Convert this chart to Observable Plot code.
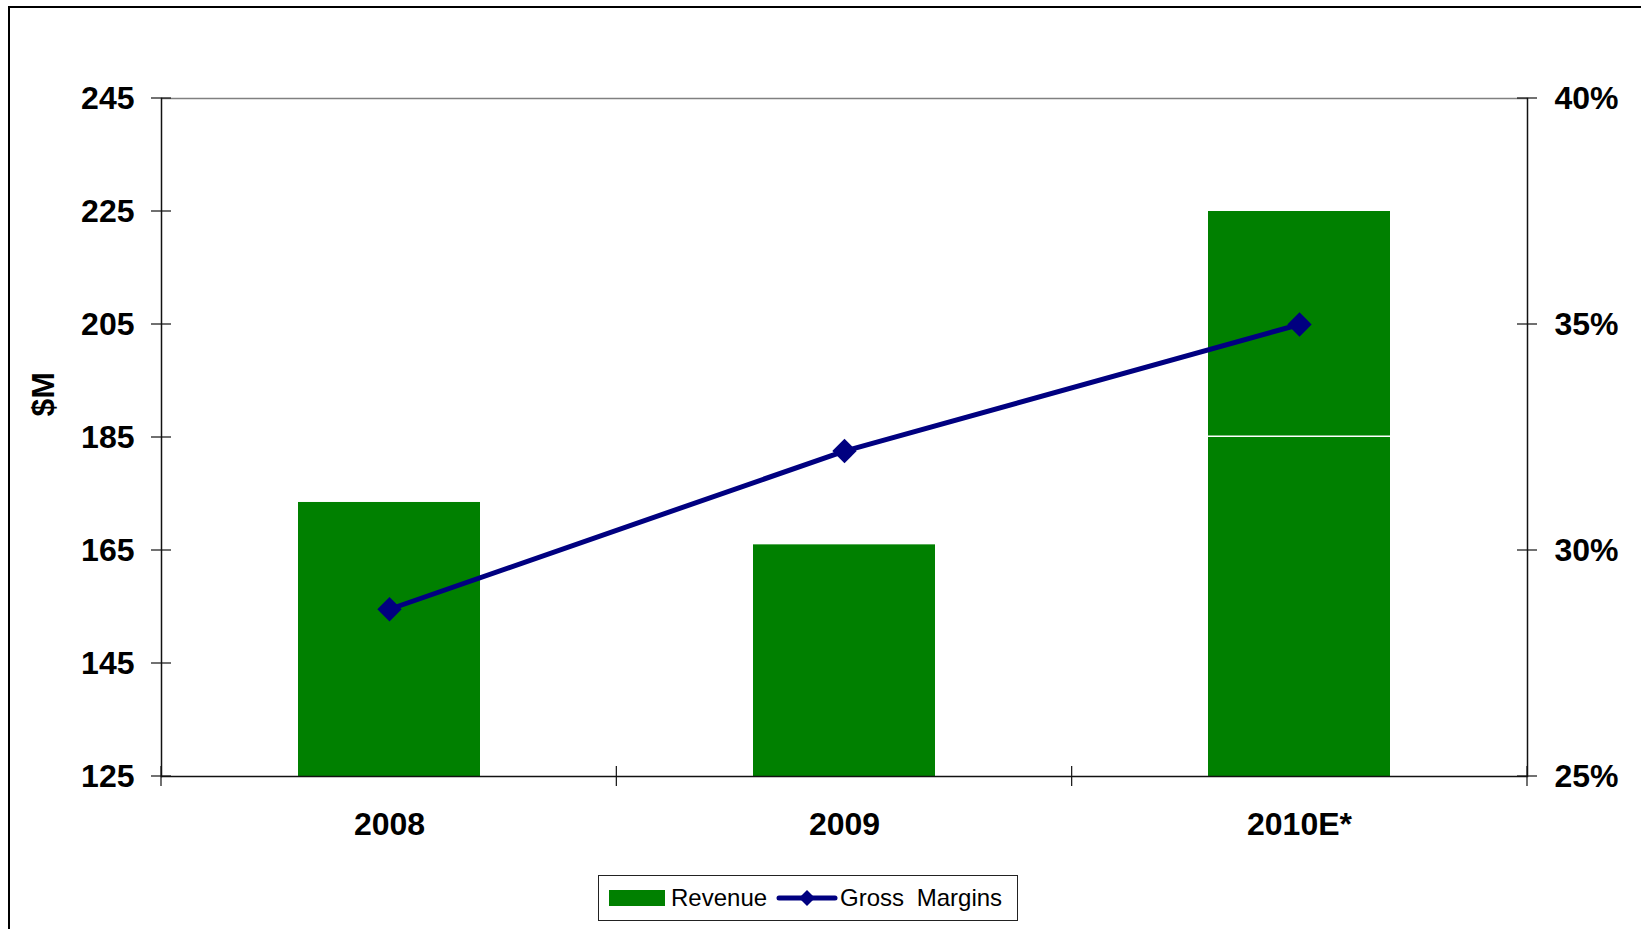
<!DOCTYPE html>
<html>
<head>
<meta charset="utf-8">
<script src="https://cdn.jsdelivr.net/npm/d3@7"></script>
<script src="https://cdn.jsdelivr.net/npm/@observablehq/plot@0.6"></script>
<style>
  html, body { margin: 0; padding: 0; background: #fff; overflow: hidden; }
  #wrap { position: relative; width: 1641px; height: 929px; }
  #border { position: absolute; left: 8px; top: 6px; width: 1700px; height: 1000px;
            border: 2px solid #000; box-sizing: border-box; pointer-events: none; }
  #chart svg { display: block; }
  #legend { margin-left: 598px; width: 420px; height: 46px; border: 1.5px solid #222;
            box-sizing: border-box; display: flex; align-items: center;
            font: 24px "Liberation Sans", Arial, sans-serif; color: #000; white-space: nowrap; }
  #legend .sw { display: inline-block; width: 56px; height: 16px; background: #008000; margin-left: 10px; }
  #legend .t1 { margin-left: 6px; }
  #legend svg { margin-left: 9px; }
  #legend .t2 { margin-left: 2px; word-spacing: 6px; }
</style>
</head>
<body>
<div id="wrap">
  <div id="chart"></div>
  <div id="legend">
    <span class="sw"></span><span class="t1">Revenue</span>
    <svg width="62" height="22" viewBox="0 0 62 22">
      <line x1="3" y1="11" x2="59" y2="11" stroke="#000080" stroke-width="5" stroke-linecap="round"/>
      <path d="M31,3 L39,11 L31,19 L23,11 Z" fill="#000080"/>
    </svg>
    <span class="t2">Gross Margins</span>
  </div>
  <div id="border"></div>
</div>
<script>
// ---- data ----
const years = ["2008", "2009", "2010E*"];
const revenueBase = [173.5, 166, 185];      // $M
const revenueUpside = [0, 0, 40];           // $M (estimate range above base)
const grossMargins = [0.287, 0.322, 0.350]; // share
const revenueTicks = [125, 145, 165, 185, 205, 225, 245];
const marginTicks = [0.25, 0.30, 0.35, 0.40];

// secondary axis mapping: 25%..40% onto 125..245
const yMin = 125, yMax = 245, mMin = 0.25, mMax = 0.40;
const marginToY = m => yMin + (m - mMin) / (mMax - mMin) * (yMax - yMin);

const base = years.map((year, i) => ({year, value: revenueBase[i]}));
const upside = years.map((year, i) => ({year, y1: revenueBase[i], y2: revenueBase[i] + revenueUpside[i]}))
                    .filter(d => d.y2 > d.y1);
const margins = years.map((year, i) => ({year, m: grossMargins[i], y: marginToY(grossMargins[i])}));

function crossTicks() {
  return (index, scales, values, dimensions) => {
    const {width, height, marginLeft, marginRight, marginBottom} = dimensions;
    const g = d3.create("svg:g").attr("stroke", "#111").attr("stroke-width", 1.2);
    const n = years.length;
    const step = (width - marginLeft - marginRight) / n;
    const yb = height - marginBottom;
    for (let i = 0; i <= n; i++) {
      const x = marginLeft + i * step;
      g.append("line").attr("x1", x).attr("x2", x).attr("y1", yb - 10).attr("y2", yb + 10);
    }
    for (const v of revenueTicks) {
      const y = scales.y(v);
      g.append("line").attr("x1", marginLeft - 10).attr("x2", marginLeft + 10).attr("y1", y).attr("y2", y);
    }
    for (const m of marginTicks) {
      const y = scales.y(marginToY(m));
      const xr = width - marginRight;
      g.append("line").attr("x1", xr - 10).attr("x2", xr + 10).attr("y1", y).attr("y2", y);
    }
    return g.node();
  };
}

const chart = Plot.plot({
  width: 1641,
  height: 875,
  marginLeft: 161,
  marginRight: 114,
  marginTop: 98,
  marginBottom: 99,
  style: {fontFamily: "'Liberation Sans', Arial, sans-serif", fontSize: "32px", fontWeight: "bold", color: "#000", background: "transparent"},
  x: {domain: years, paddingInner: 0.6, paddingOuter: 0.3, label: null},
  y: {domain: [yMin, yMax], label: null},
  marks: [
    Plot.barY(base, {x: "year", y: "value", fill: "#008000", clip: true}),
    Plot.rectY(upside, {x: "year", y1: "y1", y2: "y2", fill: "#008000", insetBottom: 1.5}),
    Plot.ruleY([yMax], {stroke: "#808080", strokeWidth: 1.5}),
    Plot.ruleY([yMin], {stroke: "#111", strokeWidth: 1.5}),
    Plot.frame({anchor: "left", stroke: "#111", strokeWidth: 1.5}),
    Plot.frame({anchor: "right", stroke: "#111", strokeWidth: 1.5}),
    crossTicks(),
    Plot.line(margins, {x: "year", y: "y", stroke: "#000080", strokeWidth: 5}),
    Plot.dot(margins, {x: "year", y: "y", symbol: "diamond2", r: 11, fill: "#000080", stroke: "none"}),
    Plot.axisY({ticks: revenueTicks, tickSize: 0, tickPadding: 27, label: null, fontSize: 32}),
    Plot.axisY({anchor: "right", ticks: marginTicks.map(marginToY), tickSize: 0, tickPadding: 27, label: null, fontSize: 32,
                tickFormat: v => Math.round(((v - yMin) / (yMax - yMin) * (mMax - mMin) + mMin) * 100) + "%"}),
    Plot.axisX({tickSize: 0, tickPadding: 36, label: null, fontSize: 32}),
    Plot.text(["$M"], {frameAnchor: "left", rotate: -90, dx: -118, dy: -21, fontSize: 32, fontWeight: "bold", fill: "#000"})
  ]
});
document.getElementById("chart").appendChild(chart);
</script>
</body>
</html>
